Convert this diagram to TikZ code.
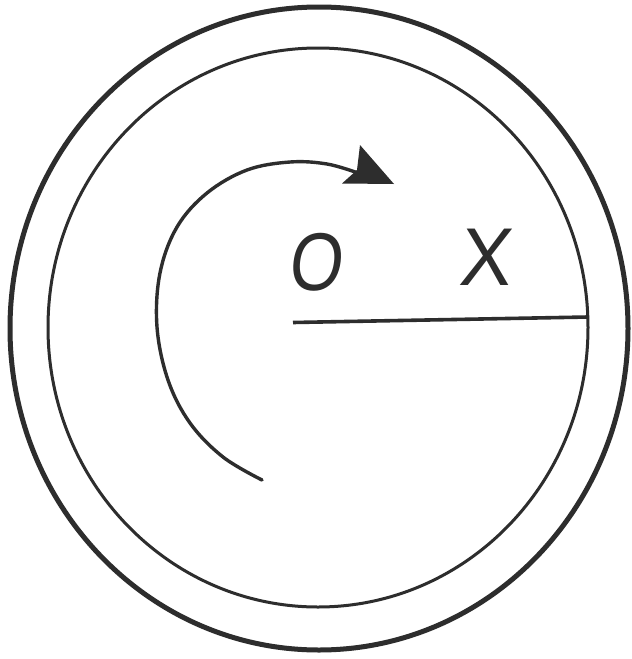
\documentclass[tikz,border=0pt]{standalone}
\usepackage{fontspec}
\setmainfont{Liberation Sans}
\definecolor{ink}{RGB}{45,45,45}
\begin{document}
\begin{tikzpicture}[x=1pt,y=-1pt,
  rim/.style={draw=ink,line width=5pt},
  disc/.style={draw=ink,line width=3pt},
  radius line/.style={draw=ink,line width=3.6pt},
  turn/.style={draw=ink,line width=3.4pt,line cap=round},
  head/.style={fill=ink},
  lbl/.style={inner sep=0pt,text=ink,font=\fontsize{82}{82}\selectfont}]
\useasboundingbox (0,0) rectangle (632,659);
\fill[white] (0,0) rectangle (632,659);
% outer and inner rims
\draw[rim] (319,328.5) ellipse [x radius=309, y radius=321.5];
\draw[disc] (318,327.5) ellipse [x radius=270, y radius=279.5];
% radius O-X
\coordinate (o) at (293,322.5);
\coordinate (r) at (588,317);
\draw[radius line] (o) -- (r);
% labels
\node[lbl,xscale=0.84,xslant=0.14] (lo) at (318,262) {O};
\node[lbl,xscale=0.95,xslant=0.1] (lx) at (487,257) {X};
% rotation arrow
\draw[turn] plot[smooth,tension=0.6] coordinates {(262,480) (223,457) (190,423) (168,380) (157,327) (160,273) (177,227) (207,193) (247,170) (290,162) (327,164) (358,173)};
\fill[head] (394,184) -- (360,145) -- (357,170) -- (342,183.5) -- cycle;
\end{tikzpicture}
\end{document}
